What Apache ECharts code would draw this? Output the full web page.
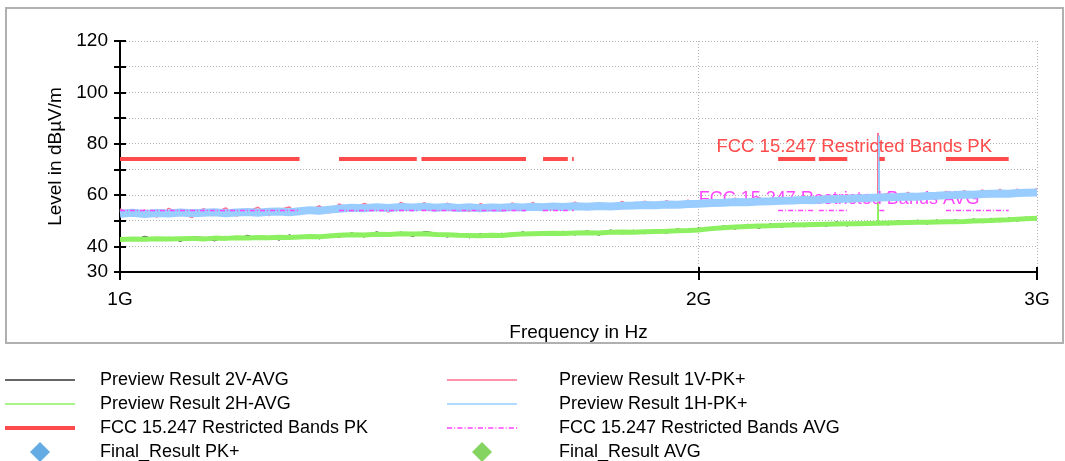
<!DOCTYPE html>
<html><head><meta charset="utf-8">
<script src="https://cdn.jsdelivr.net/npm/echarts@6/dist/echarts.min.js"></script>
<style>html,body{margin:0;padding:0;background:#fff}#c{width:1065px;height:461px}</style>
</head><body><div id="c"></div>
<script>
// ---------- data ----------
const freqMHz = [1000,1015,1030,1045,1060,1075,1090,1105,1120,1135,
  1150,1165,1180,1195,1210,1225,1240,1255,1270,1285,
  1300,1320,1340,1360,1380,1400,1420,1440,1460,1480,
  1500,1520,1540,1560,1580,1600,1620,1640,1660,1680,
  1700,1725,1750,1775,1800,1825,1850,1875,1900,1925,
  1950,1975,2000,2030,2060,2090,2120,2150,2180,2210,
  2240,2270,2300,2330,2360,2390,2420,2450,2480,2510,
  2540,2570,2600,2630,2660,2690,2720,2750,2780,2810,
  2840,2870,2900,2930,2960,3000];
const prev2VAvg = [43.4,42.3,43.9,42.6,43.5,41.9,43.7,43.5,42.1,43.9,
  42.8,44.3,42.9,43.8,42.4,44.5,43.1,44.6,42.9,44.7,
  43.5,45.3,43.6,45.7,43.9,45.6,43.8,45.8,45.2,43.6,
  45.0,43.3,45.0,43.4,45.1,43.8,45.7,44.2,45.8,44.3,
  45.9,44.4,46.1,44.3,46.4,44.8,46.3,44.9,46.5,45.1,
  46.9,45.4,47.2,46.1,48.0,46.7,48.6,47.0,48.8,47.4,
  49.2,47.6,49.3,47.8,49.6,47.9,49.5,48.1,49.8,48.3,
  50.0,48.5,50.2,48.6,50.3,48.8,50.4,48.9,50.7,49.2,
  50.9,49.5,51.1,49.8,51.4,50.2];
const prev2HAvg = [42.7,42.9,42.8,43.0,42.9,43.0,43.1,42.9,43.2,43.1,
  43.3,43.2,43.4,43.3,43.5,43.4,43.6,43.8,43.7,44.0,
  44.3,44.5,44.4,44.7,44.6,44.9,44.8,44.9,44.6,44.5,
  44.3,44.2,44.1,44.3,44.2,44.6,44.8,44.9,45.0,45.1,
  45.0,45.2,45.3,45.2,45.5,45.6,45.5,45.7,45.8,45.9,
  46.1,46.2,46.4,46.9,47.2,47.5,47.7,47.9,48.0,48.2,
  48.3,48.4,48.5,48.6,48.7,48.8,48.8,48.9,49.0,49.1,
  49.2,49.3,49.4,49.4,49.5,49.6,49.6,49.7,49.9,50.0,
  50.1,50.3,50.4,50.6,50.7,50.9];
const prev1VPk = [54.6,52.3,54.2,51.4,54.8,52.9,51.2,54.7,53.0,55.0,
  51.8,53.6,55.2,52.0,54.3,55.3,52.4,54.0,55.8,53.0,
  56.5,54.2,56.7,55.0,53.4,57.1,54.8,57.0,53.8,56.8,
  55.2,53.6,56.6,55.0,53.7,56.9,54.6,57.1,53.9,56.5,
  55.0,57.2,54.3,57.0,55.2,57.5,55.0,57.6,55.2,57.8,
  55.5,58.0,55.8,58.3,56.2,58.8,56.2,59.1,56.7,59.2,
  57.2,59.6,57.2,59.7,57.6,60.1,57.9,60.2,59.2,60.7,
  58.2,61.0,58.6,61.2,58.7,61.4,59.3,61.7,59.3,62.0,
  59.8,62.2,59.7,62.3,60.2,62.5];
const prev1HPk = [52.7,53.1,52.6,53.0,52.8,53.2,52.9,53.1,53.3,52.9,
  53.2,53.4,53.1,53.5,53.6,53.3,53.7,54.1,53.9,54.3,
  54.6,55.0,54.8,55.2,54.9,55.3,55.1,55.4,55.0,55.3,
  54.9,55.2,54.8,55.1,55.0,55.3,55.1,55.4,55.2,55.5,
  55.3,55.6,55.4,55.7,55.5,55.8,55.9,56.1,56.0,56.3,
  56.2,56.5,56.6,56.9,57.0,57.3,57.2,57.5,57.6,57.8,
  57.9,58.1,58.0,58.3,58.4,58.5,58.7,58.8,59.0,59.1,
  59.2,59.4,59.3,59.6,59.7,59.9,60.0,60.2,60.1,60.4,
  60.5,60.6,60.5,60.8,60.9,61.0];
// narrow carrier spikes: [freq MHz, base level, top level]
const spike2V = [2480, 49.0, 57.0];
const spike2H = [2479, 49.0, 57.5];
const spike1V = [2479, 59.0, 84.2];
const spike1H = [2481, 59.0, 83.2];
const finalPk = [];
const finalAvg = [];
const restrictedBandsMHz = [[1000,1240],[1300,1427],[1435,1626.5],[1645.5,1646.5],[1660,1710],
  [1718.8,1722.2],[2200,2300],[2310,2390],[2483.5,2500],[2690,2900]];
const limitPkLevel = 74;
const limitAvgLevel = 54;
const pkLabelAt = [2410, 78.7];
const avgLabelAt = [2367, 58.5];
const xTicksHz = [1e9, 2e9, 3e9];
const yLabelValues = [30, 40, 60, 80, 100, 120];

// ---------- chart ----------
const FONT = '"Liberation Sans", Arial, Helvetica, sans-serif';
const chart = echarts.init(document.getElementById('c'), null, {renderer: 'canvas'});
const toXY = vals => freqMHz.map((f, i) => [f * 1e6, vals[i]]);
function limitData(level) {
  const d = [];
  restrictedBandsMHz.forEach(([a, b]) => { d.push([a * 1e6, level], [b * 1e6, level], [b * 1e6, '-']); });
  return d;
}
function spikeLine(s, color, width) {
  return {symbol: ['none', 'none'], silent: true, label: {show: false}, emphasis: {disabled: true},
    lineStyle: {color: color, width: width, type: 'solid', opacity: 1},
    data: [[{coord: [s[0] * 1e6, s[1]]}, {coord: [s[0] * 1e6, s[2]]}]]};
}
let dashDot = 'path://';
for (let k = 0; k < 7; k++) {
  const o = k * 10;
  dashDot += `M${o},0H${o+5}V1.5H${o}Z M${o+7},0H${o+8}V1.5H${o+7}Z `;
}
const diamondIcon = 'path://M10,0L20,10L10,20L0,10Z';
function leg(name, left, top, icon, padLeft) {
  return {data: [name], left: left, top: top, padding: 0, itemWidth: 70, itemHeight: 20, icon: icon,
    selectedMode: false, itemStyle: {borderWidth: 0},
    textStyle: {fontSize: 18, fontFamily: FONT, color: '#000', padding: [0, 0, 0, padLeft]}};
}
const N = {
  v2: 'Preview Result 2V-AVG', h2: 'Preview Result 2H-AVG', pk: 'FCC 15.247 Restricted Bands PK',
  fpk: 'Final_Result PK+', v1: 'Preview Result 1V-PK+', h1: 'Preview Result 1H-PK+',
  avg: 'FCC 15.247 Restricted Bands AVG', favg: 'Final_Result AVG'
};
const C = {v2: '#333333', h2: '#8CF060', pk: '#FF4B4B', fpk: '#3F96DC', v1: '#FF6F91', h1: '#99CCFF', avg: '#FF44FF', favg: '#66C83A'};
const grid = {left: 120, top: 41, width: 917, height: 231};
const xBase = {type: 'log', logBase: 10, min: 1e9, max: 3e9, gridIndex: 0, position: 'bottom'};
const yBase = {type: 'value', min: 30, max: 120, interval: 10, gridIndex: 0, position: 'left'};
const option = {
  animation: false,
  backgroundColor: '#fff',
  textStyle: {fontFamily: FONT},
  graphic: [{type: 'rect', shape: {x: 6, y: 8, width: 1057, height: 335}, style: {fill: 'none', stroke: '#b0b0b0', lineWidth: 2}, silent: true}],
  grid: grid,
  legend: [
    leg(N.v2, 5, 371, 'path://M0,0H70V1.5H0Z', 20),
    leg(N.h2, 5, 395, 'path://M0,0H70V1.5H0Z', 20),
    leg(N.pk, 5, 419, 'path://M0,0H70V4H0Z', 20),
    leg(N.fpk, 30, 442, diamondIcon, 20),
    leg(N.v1, 447, 371, 'path://M0,0H70V1.5H0Z', 37),
    leg(N.h1, 447, 395, 'path://M0,0H70V1.5H0Z', 37),
    leg(N.avg, 447, 419, dashDot, 37),
    leg(N.favg, 472, 442, diamondIcon, 37)
  ],
  xAxis: [
    Object.assign({}, xBase, {
      axisLine: {show: true, onZero: false, lineStyle: {color: '#000', width: 2}},
      axisTick: {show: true, length: 8, customValues: xTicksHz, lineStyle: {color: '#000', width: 2}},
      axisLabel: {customValues: xTicksHz, formatter: v => Math.round(v / 1e9) + 'G', margin: 18, fontSize: 19, color: '#000', fontFamily: FONT},
      splitLine: {show: true, lineStyle: {color: '#b4b4b4', width: 1, type: [1, 2]}},
      minorTick: {show: false}, minorSplitLine: {show: false},
      name: 'Frequency in Hz', nameLocation: 'middle', nameGap: 51,
      nameTextStyle: {fontSize: 19, color: '#000', fontFamily: FONT}
    }),
    Object.assign({}, xBase, {
      axisLine: {show: false, onZero: false},
      axisTick: {show: true, inside: true, length: 5, customValues: xTicksHz, lineStyle: {color: '#000', width: 2}},
      axisLabel: {show: false}, splitLine: {show: false}
    })
  ],
  yAxis: [
    Object.assign({}, yBase, {
      axisLine: {show: true, lineStyle: {color: '#000', width: 2}},
      axisTick: {show: true, length: 6, lineStyle: {color: '#000', width: 2}},
      axisLabel: {formatter: v => yLabelValues.indexOf(v) >= 0 ? String(v) : '', margin: 12, fontSize: 19, color: '#000', fontFamily: FONT, padding: [3, 0, 0, 0]},
      splitLine: {show: true, lineStyle: {color: '#b4b4b4', width: 1, type: [1, 2]}},
      name: 'Level in dBµV/m', nameLocation: 'middle', nameGap: 55,
      nameTextStyle: {fontSize: 19, color: '#000', fontFamily: FONT}
    }),
    Object.assign({}, yBase, {
      axisLine: {show: false},
      axisTick: {show: true, inside: true, length: 6, lineStyle: {color: '#000', width: 2}},
      axisLabel: {show: false}, splitLine: {show: false}
    })
  ],
  series: [
    {name: N.v2, type: 'line', data: toXY(prev2VAvg), showSymbol: false, symbol: 'none', color: C.v2,
      lineStyle: {width: 1, color: C.v2}, markLine: spikeLine(spike2V, C.v2, 1), z: 2},
    {name: N.h2, type: 'line', data: toXY(prev2HAvg), showSymbol: false, symbol: 'none', color: C.h2,
      lineStyle: {width: 5, color: C.h2, join: 'round'}, markLine: spikeLine(spike2H, C.h2, 2), z: 3},
    {name: N.v1, type: 'line', data: toXY(prev1VPk), showSymbol: false, symbol: 'none', color: C.v1,
      lineStyle: {width: 1.5, color: C.v1}, markLine: spikeLine(spike1V, C.v1, 2), z: 4},
    {name: N.h1, type: 'line', data: toXY(prev1HPk), showSymbol: false, symbol: 'none', color: C.h1,
      lineStyle: {width: 8, color: C.h1, join: 'round'}, markLine: spikeLine(spike1H, C.h1, 2), z: 5},
    {name: N.pk, type: 'line', data: limitData(limitPkLevel), showSymbol: false, symbol: 'none', color: C.pk,
      connectNulls: false, lineStyle: {width: 4, color: C.pk, cap: 'butt'}, z: 6,
      markPoint: {symbol: 'circle', symbolSize: 0, silent: true,
        label: {show: true, position: 'inside', formatter: '{b}', color: C.pk, fontSize: 18.5, fontFamily: FONT},
        data: [{name: N.pk, coord: [pkLabelAt[0] * 1e6, pkLabelAt[1]]}]}},
    {name: N.avg, type: 'line', data: limitData(limitAvgLevel), showSymbol: false, symbol: 'none', color: C.avg,
      connectNulls: false, lineStyle: {width: 1.5, color: C.avg, type: [5, 2, 1, 2]}, z: 7,
      markPoint: {symbol: 'circle', symbolSize: 0, silent: true,
        label: {show: true, position: 'inside', formatter: '{b}', color: C.avg, fontSize: 18, fontFamily: FONT},
        data: [{name: N.avg, coord: [avgLabelAt[0] * 1e6, avgLabelAt[1]]}]}},
    {name: N.fpk, type: 'scatter', data: finalPk, symbol: 'diamond', symbolSize: 14, color: C.fpk, z: 8},
    {name: N.favg, type: 'scatter', data: finalAvg, symbol: 'diamond', symbolSize: 14, color: C.favg, z: 8}
  ]
};
chart.setOption(option);
</script>
</body></html>
